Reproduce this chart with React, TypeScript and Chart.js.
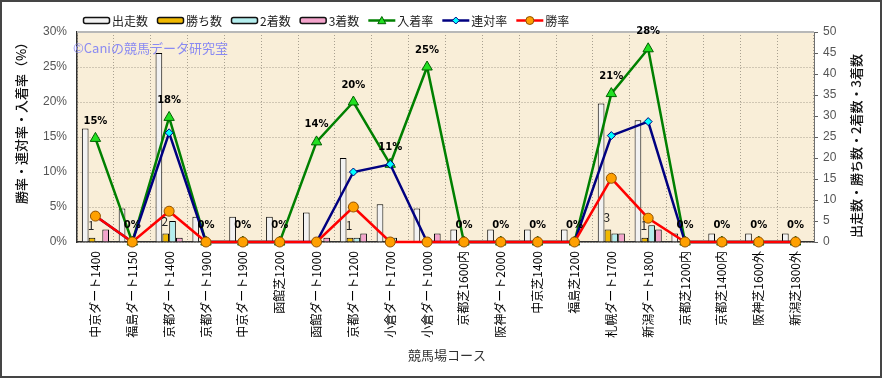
import React, { useEffect, useRef } from 'react';
import { Chart, registerables } from 'chart.js';

Chart.register(...registerables);

const categories = [
  '中京ダート1400', '福島ダート1150', '京都ダート1400', '京都ダート1900', '中京ダート1900',
  '函館芝1200', '函館ダート1000', '京都ダート1200', '小倉ダート1700', '小倉ダート1000',
  '京都芝1600内', '阪神ダート2000', '中京芝1400', '福島芝1200', '札幌ダート1700',
  '新潟ダート1800', '京都芝1200内', '京都芝1400内', '阪神芝1600外', '新潟芝1800外',
];
const starts = [27, 8, 45, 6, 6, 6, 7, 20, 9, 8, 3, 3, 3, 3, 33, 29, 2, 2, 2, 2];
const wins = [1, 0, 2, 0, 0, 0, 0, 1, 0, 0, 0, 0, 0, 0, 3, 1, 0, 0, 0, 0];
const seconds = [0, 0, 5, 0, 0, 0, 0, 1, 1, 0, 0, 0, 0, 0, 2, 4, 0, 0, 0, 0];
const thirds = [3, 0, 1, 0, 0, 0, 1, 2, 0, 2, 0, 0, 0, 0, 2, 3, 0, 0, 0, 0];
const showRate = [14.8, 0, 17.8, 0, 0, 0, 14.3, 20, 11.1, 25, 0, 0, 0, 0, 21.2, 27.6, 0, 0, 0, 0];
const quinellaRate = [3.7, 0, 15.6, 0, 0, 0, 0, 10, 11.1, 0, 0, 0, 0, 0, 15.2, 17.2, 0, 0, 0, 0];
const winRate = [3.7, 0, 4.4, 0, 0, 0, 0, 5, 0, 0, 0, 0, 0, 0, 9.1, 3.4, 0, 0, 0, 0];

const leftMax = 30;
const rightMax = 50;
const tickStep = 5;

const seriesNames = ['出走数', '勝ち数', '2着数', '3着数', '入着率', '連対率', '勝率'];
const leftTitle = '勝率・連対率・入着率（%）';
const rightTitle = '出走数・勝ち数・2着数・3着数';
const xTitle = '競馬場コース';
const watermark = '©Caniの競馬データ研究室';

const FONT = '"Noto Sans CJK JP", "Noto Sans", sans-serif';

const barColors = ['#f2f2f2', '#f0b800', '#b4eeee', '#f4a4cc'];
const lineColors = ['#008000', '#000080', '#ff0000'];
const pointFills = ['#22e022', '#00ffff', '#ffa000'];
const pointBorders = ['#006000', '#000080', '#905000'];

function drawMarker(ctx: CanvasRenderingContext2D, kind: number, x: number, y: number, s: number) {
  ctx.save();
  ctx.fillStyle = pointFills[kind];
  ctx.strokeStyle = pointBorders[kind];
  ctx.lineWidth = 1;
  ctx.beginPath();
  if (kind === 0) {
    ctx.moveTo(x, y - s);
    ctx.lineTo(x + s, y + s * 0.8);
    ctx.lineTo(x - s, y + s * 0.8);
    ctx.closePath();
  } else if (kind === 1) {
    ctx.moveTo(x, y - s);
    ctx.lineTo(x + s, y);
    ctx.lineTo(x, y + s);
    ctx.lineTo(x - s, y);
    ctx.closePath();
  } else {
    ctx.arc(x, y, s, 0, Math.PI * 2);
  }
  ctx.fill();
  ctx.stroke();
  ctx.restore();
}

const customPlugin = {
  id: 'customDecor',
  beforeDraw(chart: any) {
    const { ctx, chartArea: a, width, height } = chart;
    ctx.save();
    ctx.fillStyle = '#ffffff';
    ctx.fillRect(0, 0, width, height);
    ctx.fillStyle = '#f9eed8';
    ctx.fillRect(a.left, a.top, a.right - a.left, a.bottom - a.top);
    ctx.restore();
  },
  beforeDatasetsDraw(chart: any) {
    const { ctx, chartArea: a } = chart;
    ctx.save();
    ctx.strokeStyle = '#b8b8b8';
    ctx.lineWidth = 2;
    ctx.beginPath();
    ctx.moveTo(a.left, a.top);
    ctx.lineTo(a.right, a.top);
    ctx.stroke();
    ctx.font = `13px ${FONT}`;
    ctx.fillStyle = '#8a8af2';
    ctx.textAlign = 'left';
    ctx.textBaseline = 'middle';
    ctx.fillText(watermark, 73, 48);
    ctx.restore();
  },
  afterDatasetsDraw(chart: any) {
    const { ctx } = chart;
    ctx.save();
    const showMeta = chart.getDatasetMeta(4);
    ctx.font = 'bold 10px "DejaVu Sans", sans-serif';
    ctx.fillStyle = '#000';
    ctx.textAlign = 'center';
    ctx.textBaseline = 'middle';
    showRate.forEach((v, i) => {
      const p = showMeta.data[i];
      ctx.fillText(`${Math.round(v)}%`, p.x, p.y - 17);
    });
    const winMeta = chart.getDatasetMeta(1);
    ctx.font = `12px ${FONT}`;
    ctx.fillStyle = '#222';
    wins.forEach((v, i) => {
      if (v > 0) {
        const b = winMeta.data[i];
        ctx.fillText(String(v), b.x - 1, b.y - 12);
      }
    });
    ctx.restore();
  },
  afterDraw(chart: any) {
    const { ctx, width, height } = chart;
    ctx.save();
    ctx.font = `12px ${FONT}`;
    ctx.textBaseline = 'middle';
    ctx.textAlign = 'left';
    let x = 83;
    const ly = 20.5;
    seriesNames.forEach((name, i) => {
      if (i < 4) {
        ctx.fillStyle = barColors[i];
        ctx.strokeStyle = '#111';
        ctx.lineWidth = 1.5;
        ctx.beginPath();
        (ctx as any).roundRect(x + 0.5, ly - 3, 26, 6, 2);
        ctx.fill();
        ctx.stroke();
      } else {
        const k = i - 4;
        ctx.strokeStyle = lineColors[k];
        ctx.lineWidth = 2.5;
        ctx.beginPath();
        ctx.moveTo(x, ly);
        ctx.lineTo(x + 27, ly);
        ctx.stroke();
        drawMarker(ctx, k, x + 13.5, ly, k === 1 ? 3.5 : 4);
      }
      ctx.fillStyle = '#222';
      ctx.fillText(name, x + 29, ly + 1);
      x += 29 + ctx.measureText(name).width + 9;
    });
    ctx.fillStyle = '#111';
    ctx.font = `500 13px ${FONT}`;
    ctx.textAlign = 'center';
    ctx.save();
    ctx.translate(21, 120);
    ctx.rotate(-Math.PI / 2);
    ctx.fillText(leftTitle, 0, 0);
    ctx.restore();
    ctx.save();
    ctx.translate(856, 146);
    ctx.rotate(-Math.PI / 2);
    ctx.fillText(rightTitle, 0, 0);
    ctx.restore();
    ctx.fillStyle = '#333';
    ctx.font = `13px ${FONT}`;
    ctx.fillText(xTitle, 447, 355);
    ctx.strokeStyle = '#454545';
    ctx.lineWidth = 2;
    ctx.strokeRect(1, 1, width - 2, height - 2);
    ctx.restore();
  },
};

export default function App() {
  const ref = useRef<HTMLCanvasElement>(null);
  useEffect(() => {
    if (!ref.current) return;
    const barDs = (label: string, data: number[], idx: number) => ({
      type: 'bar' as const,
      label,
      data,
      yAxisID: 'y1',
      backgroundColor: barColors[idx],
      borderColor: '#000',
      borderWidth: 1,
      categoryPercentage: 0.74,
      barPercentage: 0.98,
      order: 10,
    });
    const lineDs = (label: string, data: number[], k: number, style: string, r: number) => ({
      type: 'line' as const,
      label,
      data,
      yAxisID: 'y',
      borderColor: lineColors[k],
      borderWidth: 2.5,
      pointStyle: style,
      pointRadius: r,
      pointBackgroundColor: pointFills[k],
      pointBorderColor: pointBorders[k],
      pointBorderWidth: 1,
      tension: 0,
      clip: false as any,
      order: 3 - k,
    });
    const gridColor = '#a8a090';
    const chart = new Chart(ref.current, {
      type: 'bar',
      data: {
        labels: categories,
        datasets: [
          barDs(seriesNames[0], starts, 0),
          barDs(seriesNames[1], wins, 1),
          barDs(seriesNames[2], seconds, 2),
          barDs(seriesNames[3], thirds, 3),
          lineDs(seriesNames[4], showRate, 0, 'triangle', 6),
          lineDs(seriesNames[5], quinellaRate, 1, 'rectRot', 4),
          lineDs(seriesNames[6], winRate, 2, 'circle', 5),
        ] as any,
      },
      options: {
        responsive: false,
        animation: false,
        events: [],
        layout: { padding: { top: 32, left: 0, right: 0, bottom: 0 } },
        plugins: { legend: { display: false }, tooltip: { enabled: false } },
        scales: {
          x: {
            type: 'category',
            offset: true,
            grid: { offset: true, color: gridColor, lineWidth: 1, drawTicks: false },
            border: { display: true, color: '#303030', width: 1.5, dash: [1, 2] },
            ticks: {
              autoSkip: false,
              minRotation: 90,
              maxRotation: 90,
              color: '#000',
              font: { size: 12, family: FONT },
              padding: 9,
            },
            afterFit: (s: any) => { s.height = 136; },
          },
          y: {
            position: 'left',
            min: 0,
            max: leftMax,
            grid: { color: gridColor, lineWidth: 1, drawTicks: false },
            border: { display: true, color: '#303030', width: 1.5, dash: [1, 2] },
            ticks: {
              stepSize: tickStep,
              callback: (v: any) => `${v}%`,
              color: '#555',
              font: { size: 12, family: '"Liberation Sans", sans-serif' },
              padding: 10,
            },
            afterFit: (s: any) => { s.width = 77; },
          },
          y1: {
            position: 'right',
            min: 0,
            max: rightMax,
            grid: { drawOnChartArea: false, drawTicks: true, tickLength: 4, color: '#606060' },
            border: { display: true, color: '#707070', width: 1 },
            ticks: {
              stepSize: tickStep,
              color: '#555',
              font: { size: 12, family: '"Liberation Sans", sans-serif' },
              padding: 5,
            },
            afterFit: (s: any) => { s.width = 68; },
          },
        },
      } as any,
      plugins: [customPlugin],
    });
    return () => chart.destroy();
  }, []);
  return (
    <div style={{ position: 'fixed', left: 0, top: 0, width: 882, height: 378 }}>
      <canvas ref={ref} width={882} height={378} style={{ display: 'block' }} />
    </div>
  );
}
